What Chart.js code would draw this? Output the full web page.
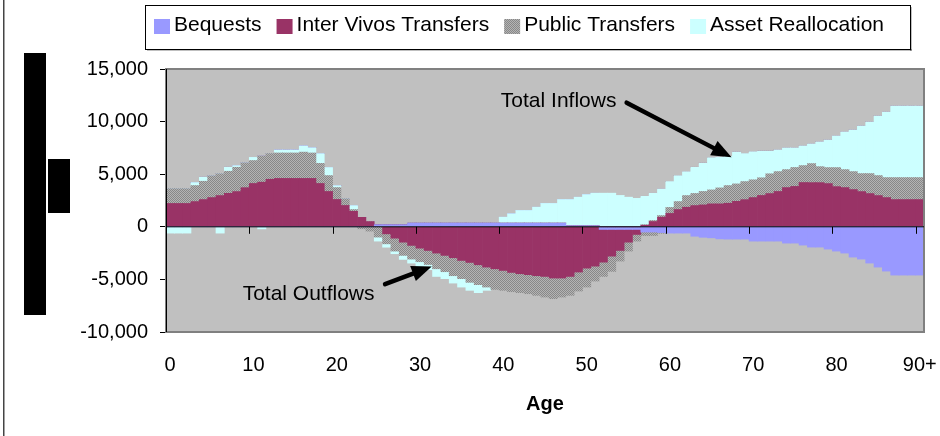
<!DOCTYPE html>
<html lang="en">
<head>
<meta charset="UTF-8">
<title>Inflows and Outflows by Age</title>
<script src="https://cdn.jsdelivr.net/npm/chart.js@4"></script>
<style>
  html, body { margin: 0; padding: 0; background: #fff; }
  #wrap { width: 940px; height: 436px; }
</style>
</head>
<body>
<div id="wrap"><canvas id="grafico" width="940" height="436"></canvas></div>
<script>
// ages 0..90+
const ages = ['0','1','2','3','4','5','6','7','8','9','10','11','12','13','14','15','16','17','18','19',
  '20','21','22','23','24','25','26','27','28','29','30','31','32','33','34','35','36','37','38','39',
  '40','41','42','43','44','45','46','47','48','49','50','51','52','53','54','55','56','57','58','59',
  '60','61','62','63','64','65','66','67','68','69','70','71','72','73','74','75','76','77','78','79',
  '80','81','82','83','84','85','86','87','88','89','90+'];

// inflows (positive)
const bequestsIn = [0,0,0,0,0,0,0,0,0,0, 0,0,0,0,0,0,0,0,0,0, 0,0,0,0,0,200,200,200,200,350,
  350,350,350,350,350,350,350,350,350,350, 350,350,350,350,350,350,350,350,100,100,
  100,100,0,0,0,0,0,0,0,0, 0,0,0,0,0,0,0,0,0,0, 0,0,0,0,0,0,0,0,0,0, 0,0,0,0,0,0,0,0,0,0, 0];
const interVivosIn = [2220,2220,2220,2400,2590,2780,2970,3180,3350,3720,
  4120,4240,4520,4600,4600,4600,4600,4600,4120,3360,
  2600,2030,1470,900,500,0,0,0,0,0, 0,0,0,0,0,0,0,0,0,0, 0,0,0,0,0,0,0,0,0,0,
  0,0,0,0,0,0,0,150,500,910,
  1270,1640,1860,2020,2080,2180,2180,2240,2420,2580,
  2780,2980,3160,3360,3730,3840,4210,4200,4200,4110,
  3820,3730,3540,3350,3160,2970,2780,2590,2590,2590, 2590];
const publicIn = [1410,1410,1410,1520,1740,2070,2080,2100,2310,2360,
  2180,2480,2450,2420,2420,2420,2500,2420,1910,1510,
  1130,640,170,0,0,0,0,0,0,0, 0,0,0,0,0,0,0,0,0,0, 0,0,0,0,0,0,0,0,0,0,
  0,0,0,0,0,0,0,50,100,160,
  570,760,1110,1150,1280,1330,1520,1680,1660,1720,
  1690,1680,1880,1890,1710,1800,1610,1810,1520,1520,
  1810,1710,1710,1710,1900,1900,1900,2090,2090,2090, 2090];
const assetIn = [0,0,0,290,380,0,0,380,160,0,
  300,0,0,290,290,290,600,500,930,770,
  190,0,380,0,0,0,0,0,0,0, 0,0,0,0,0,0,0,0,0,0,
  560,880,1200,1200,1510,1870,1870,2240,2490,2710,
  2960,3090,3190,3190,2970,2810,2700,2700,2590,2530,
  2470,2470,2280,2490,2690,3070,2920,2780,3040,2670,
  2680,2540,2160,2080,2080,1880,1890,1890,2370,2640,
  3030,3600,3970,4540,4920,5680,6250,6820,6820,6820, 6820];

// outflows (negative)
const bequestsOut = [0,0,0,0,0,0,0,0,0,0, 0,0,0,0,0,0,0,0,0,0, 0,0,0,0,0,0,0,0,0,0,
  0,0,0,0,0,0,0,0,0,0, 0,0,0,0,0,0,0,0,0,0,
  0,0,-250,-250,-250,-250,-250,-500,-500,-550,
  -600,-600,-600,-900,-1000,-1050,-1150,-1170,-1170,-1170,
  -1360,-1360,-1360,-1360,-1550,-1550,-1740,-1930,-1930,-2120,
  -2310,-2500,-2880,-3070,-3450,-3830,-4210,-4590,-4590,-4590, -4590];
const interVivosOut = [0,0,0,0,0,0,0,0,0,0, 0,0,0,0,0,0,0,0,0,0,
  0,0,0,0,0,0,-670,-1080,-1460,-1770,
  -2030,-2250,-2500,-2720,-2940,-3200,-3390,-3610,-3830,-3990,
  -4150,-4340,-4460,-4550,-4650,-4720,-4870,-4870,-4720,-4300,
  -3930,-3740,-3110,-2540,-2000,-1210,-480,0,0,0,
  0,0,0,0,0,0,0,0,0,0, 0,0,0,0,0,0,0,0,0,0, 0,0,0,0,0,0,0,0,0,0, 0];
const publicOut = [0,0,0,0,0,0,0,0,0,0, 0,0,0,0,0,0,0,0,0,0,
  0,0,0,-190,-410,-980,-950,-1230,-1260,-1300,
  -1290,-1330,-1490,-1550,-1710,-1730,-1890,-1890,-1900,-1960,
  -1890,-1830,-1800,-1810,-1870,-1960,-1960,-1810,-1800,-1810,
  -1800,-1420,-1360,-1450,-1010,-850,-630,-330,-330,-70,
  0,0,0,0,0,0,0,0,0,0, 0,0,0,0,0,0,0,0,0,0, 0,0,0,0,0,0,0,0,0,0, 0];
const assetOut = [-600,-600,-600,0,0,0,-600,0,0,0,
  0,-200,0,0,0,0,0,0,0,0,
  0,0,0,0,0,-380,-320,-250,-380,-380,
  -450,-500,-730,-660,-700,-800,-760,-760,-310,0,
  0,0,0,0,0,0,0,0,0,0, 0,0,0,0,0,0,0,0,0,0, 0,0,0,0,0,0,0,0,0,0,
  0,0,0,0,0,0,0,0,0,0, 0,0,0,0,0,0,0,0,0,0, 0];

const seriesNames = ['Bequests', 'Inter Vivos Transfers', 'Public Transfers', 'Asset Reallocation'];

// annotation anchors in data units: [age index, value]
const inflowLabel = [39.7, 11400], inflowTail = [54.8, 11800], inflowTip = [67.4, 6600];
const outflowLabel = [8.7, -7000], outflowTail = [25.8, -5450], outflowTip = [31.4, -3770];

const FONT = '"Liberation Sans", Arial, sans-serif';

// dotted grey fill like the old Excel pattern
function makePattern() {
  const c = document.createElement('canvas');
  c.width = 2; c.height = 2;
  const g = c.getContext('2d');
  g.fillStyle = '#b4b4b4'; g.fillRect(0, 0, 2, 2);
  g.fillStyle = '#888888'; g.fillRect(0, 0, 1, 1); g.fillRect(1, 1, 1, 1);
  return g.createPattern(c, 'repeat');
}
const dots = makePattern();
const colors = ['#9999ff', '#993366', dots, '#ccffff'];

function arrow(ctx, x1, y1, x2, y2) {
  const ang = Math.atan2(y2 - y1, x2 - x1);
  const hl = 20, hw = 8;
  const bx = x2 - hl * Math.cos(ang), by = y2 - hl * Math.sin(ang);
  ctx.strokeStyle = '#000';
  ctx.lineWidth = 4.5;
  ctx.lineCap = 'round';
  ctx.beginPath(); ctx.moveTo(x1, y1); ctx.lineTo(bx, by); ctx.stroke();
  ctx.fillStyle = '#000';
  ctx.beginPath();
  ctx.moveTo(x2, y2);
  ctx.lineTo(bx + hw * Math.sin(ang), by - hw * Math.cos(ang));
  ctx.lineTo(bx - hw * Math.sin(ang), by + hw * Math.cos(ang));
  ctx.closePath(); ctx.fill();
}

const decor = {
  id: 'decor',
  beforeDraw(chart) {
    const {ctx, chartArea: a} = chart;
    ctx.save();
    ctx.fillStyle = '#fff';
    ctx.fillRect(0, 0, chart.width, chart.height);
    ctx.fillStyle = '#c0c0c0';
    ctx.fillRect(a.left, a.top, a.right - a.left, a.bottom - a.top);
    ctx.restore();
  },
  afterDatasetsDraw(chart) {
    const {ctx, chartArea: a} = chart;
    const xs = chart.scales.x, ys = chart.scales.y;
    const half = (xs.getPixelForValue(1) - xs.getPixelForValue(0)) / 2;
    const y0 = ys.getPixelForValue(0);
    ctx.save();
    // plot frame
    ctx.strokeStyle = '#808080';
    ctx.lineWidth = 2;
    ctx.strokeRect(a.left, a.top, a.right - a.left, a.bottom - a.top);
    // y axis line
    ctx.strokeStyle = '#000';
    ctx.lineWidth = 1;
    ctx.beginPath(); ctx.moveTo(a.left + 0.5, a.top); ctx.lineTo(a.left + 0.5, a.bottom); ctx.stroke();
    // zero line with tick marks every 10 ages
    ctx.beginPath(); ctx.moveTo(a.left, y0); ctx.lineTo(a.right, y0); ctx.stroke();
    for (let i = 10; i < ages.length; i += 10) {
      const px = Math.round(xs.getPixelForValue(i) - half) + 0.5;
      ctx.beginPath(); ctx.moveTo(px, y0); ctx.lineTo(px, y0 + 7); ctx.stroke();
    }
    // annotations
    const P = (p) => [xs.getPixelForValue(p[0]), ys.getPixelForValue(p[1])];
    ctx.fillStyle = '#000';
    ctx.font = '21px ' + FONT;
    ctx.textBaseline = 'alphabetic';
    ctx.textAlign = 'left';
    let t = P(inflowLabel);
    ctx.fillText('Total Inflows', t[0], t[1]);
    t = P(outflowLabel);
    ctx.fillText('Total Outflows', t[0], t[1]);
    let s = P(inflowTail), e = P(inflowTip);
    arrow(ctx, s[0], s[1], e[0], e[1]);
    s = P(outflowTail); e = P(outflowTip);
    arrow(ctx, s[0], s[1], e[0], e[1]);
    ctx.restore();
  },
  afterDraw(chart) {
    const {ctx} = chart;
    ctx.save();
    // page frame edge
    ctx.fillStyle = '#444';
    ctx.fillRect(3, 0, 1.5, chart.height);
    // vertical title blocks
    ctx.fillStyle = '#000';
    ctx.fillRect(24, 53, 22, 262);
    ctx.fillRect(48, 159, 22, 54);
    // legend
    const lx = 145, ly = 5, lw = 765, lh = 44;
    ctx.fillStyle = '#fff';
    ctx.fillRect(lx, ly, lw, lh);
    ctx.fillStyle = '#808080';
    ctx.fillRect(lx + lw, ly + 2, 1.5, lh);
    ctx.fillRect(lx + 2, ly + lh, lw, 1.5);
    ctx.strokeStyle = '#000';
    ctx.lineWidth = 1;
    ctx.strokeRect(lx + 0.5, ly + 0.5, lw, lh);
    ctx.font = '21px ' + FONT;
    ctx.textBaseline = 'alphabetic';
    let x = 154;
    chart.data.datasets.slice(0, 4).forEach((ds) => {
      ctx.fillStyle = ds.backgroundColor;
      ctx.fillRect(x, 19, 16, 15);
      ctx.fillStyle = '#000';
      ctx.fillText(ds.label, x + 20, 31);
      x += 20 + ctx.measureText(ds.label).width + 15;
    });
    ctx.restore();
  }
};

const mk = (label, data, color) => ({
  label, data, backgroundColor: color, borderWidth: 0,
  categoryPercentage: 1, barPercentage: 1
});

new Chart(document.getElementById('grafico'), {
  type: 'bar',
  data: {
    labels: ages,
    datasets: [
      mk(seriesNames[0], bequestsIn, colors[0]),
      mk(seriesNames[1], interVivosIn, colors[1]),
      mk(seriesNames[2], publicIn, colors[2]),
      mk(seriesNames[3], assetIn, colors[3]),
      mk(seriesNames[0] + ' (out)', bequestsOut, colors[0]),
      mk(seriesNames[1] + ' (out)', interVivosOut, colors[1]),
      mk(seriesNames[2] + ' (out)', publicOut, colors[2]),
      mk(seriesNames[3] + ' (out)', assetOut, colors[3])
    ]
  },
  options: {
    responsive: false,
    animation: false,
    devicePixelRatio: 1,
    layout: { padding: { top: 69, right: 16, bottom: 0, left: 0 } },
    plugins: { legend: { display: false }, tooltip: { enabled: false } },
    scales: {
      x: {
        stacked: true,
        offset: true,
        grid: { display: false, drawTicks: false },
        border: { display: false },
        ticks: {
          autoSkip: false, maxRotation: 0, padding: 21, color: '#000',
          font: { family: FONT, size: 20 },
          callback: function (v, i) { return i % 10 === 0 ? this.getLabelForValue(v) : ''; }
        },
        title: { display: true, text: 'Age', color: '#000', font: { family: FONT, size: 20, weight: 'bold' }, padding: { top: 0, bottom: 20 } },
        afterFit: (s) => { s.height = 104; s.paddingLeft = 0; s.paddingRight = 0; }
      },
      y: {
        stacked: true,
        min: -10000, max: 15000,
        grid: { drawOnChartArea: false, drawTicks: true, tickLength: 6, color: '#000' },
        border: { display: true, color: '#000' },
        ticks: { stepSize: 5000, padding: 12, color: '#000', font: { family: FONT, size: 20 } },
        afterFit: (s) => { s.width = 166; }
      }
    }
  },
  plugins: [decor]
});
</script>
</body>
</html>
